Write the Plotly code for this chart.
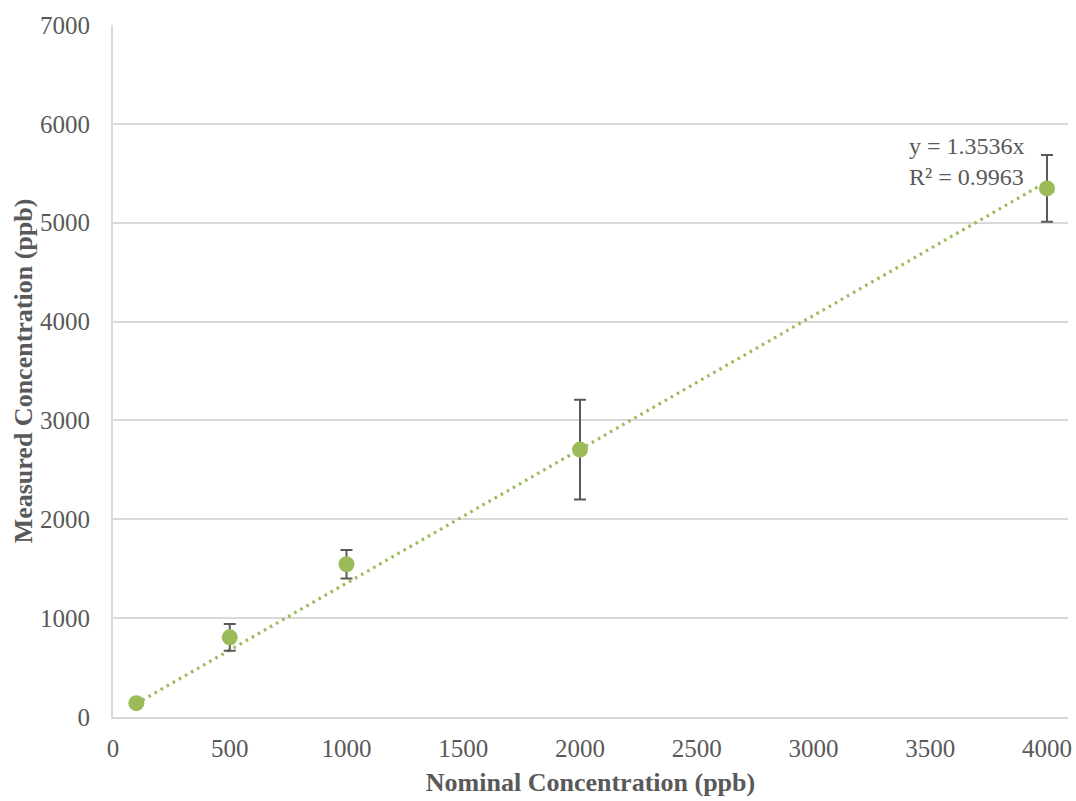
import numpy as np
import plotly.graph_objects as go

# Calibration data
nominal_ppb = [100, 500, 1000, 2000, 4000]
measured_ppb = [140, 806, 1545, 2705, 5347]
error_ppb = [25, 135, 145, 505, 338]

# Linear fit through the origin, as reported on the chart
SLOPE = 1.3536
R_SQUARED = 0.9963

x_ticks = [0, 500, 1000, 1500, 2000, 2500, 3000, 3500, 4000]
y_ticks = [0, 1000, 2000, 3000, 4000, 5000, 6000, 7000]

GREEN = "#9BBB59"
TEXT = "#595959"
GRID = "#D9D9D9"
FONT = "Liberation Serif"

trend_x = np.array([min(nominal_ppb), max(nominal_ppb)], dtype=float)
trend_y = SLOPE * trend_x

fig = go.Figure()

fig.add_trace(go.Scatter(
    x=trend_x, y=trend_y, mode="lines",
    line=dict(color=GREEN, width=3.2, dash="2.6px,4.4px"),
    hoverinfo="skip", showlegend=False,
))

fig.add_trace(go.Scatter(
    x=nominal_ppb, y=measured_ppb, mode="markers",
    marker=dict(color=GREEN, size=16),
    error_y=dict(type="data", array=error_ppb, visible=True,
                 color="#595959", thickness=2, width=6),
    showlegend=False,
))

fig.add_annotation(
    x=3400, y=5620, xref="x", yref="y",
    text=f"y = {SLOPE}x<br>R² = {R_SQUARED}",
    showarrow=False, xanchor="left", yanchor="middle", align="left",
    font=dict(family=FONT, size=24, color=TEXT),
)

fig.update_layout(
    width=1076, height=801,
    margin=dict(l=113, r=4, t=25, b=84),
    paper_bgcolor="white", plot_bgcolor="white",
    font=dict(family=FONT, color=TEXT, size=25),
)

fig.update_xaxes(
    range=[0, 4090], tickvals=x_ticks, showgrid=False,
    zeroline=False, showline=True, linecolor=GRID, linewidth=2,
    ticks="", ticklabelstandoff=8,
    tickfont=dict(family=FONT, size=25, color=TEXT),
    title=dict(text="<b>Nominal Concentration (ppb)</b>",
               font=dict(family=FONT, size=26, color=TEXT), standoff=12),
)

fig.update_yaxes(
    range=[0, 7000], tickvals=y_ticks, showgrid=True,
    gridcolor=GRID, gridwidth=1.5,
    zeroline=False, showline=True, linecolor=GRID, linewidth=2,
    ticks="", ticklabelstandoff=16,
    tickfont=dict(family=FONT, size=25, color=TEXT),
    title=dict(text="<b>Measured Concentration (ppb)</b>",
               font=dict(family=FONT, size=26, color=TEXT), standoff=0),
)

fig.write_html("out.html")
